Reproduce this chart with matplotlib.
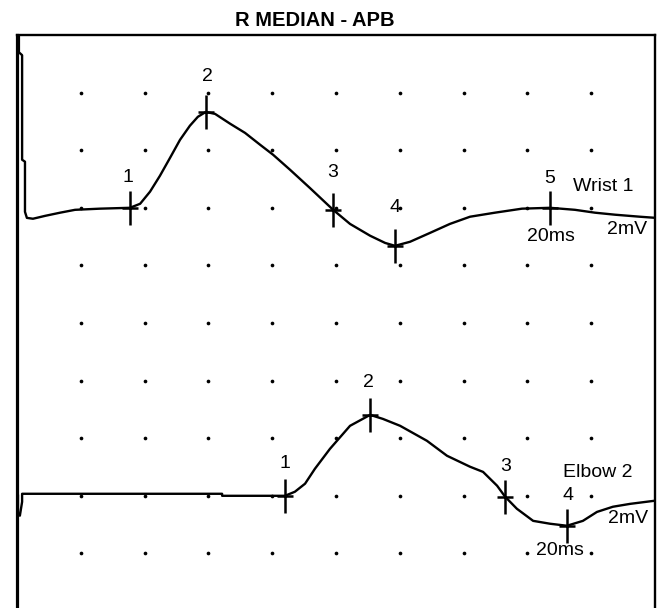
import matplotlib
matplotlib.use("Agg")
import matplotlib.pyplot as plt
from matplotlib.path import Path
import numpy as np

plt.rcParams['font.family'] = ['Liberation Sans', 'DejaVu Sans']

# ---- data (time in ms, amplitude in mV; 2 ms/div, 2 mV/div) ----
title = "R MEDIAN - APB"

wrist_t = [0.06, 0.06, 0.16, 0.16, 0.25, 0.25, 0.31, 0.50, 0.88, 1.35, 1.82, 2.60, 3.54,
           3.86, 4.17, 4.48, 4.80, 5.11, 5.42, 5.67, 5.92, 6.21, 6.68, 7.15, 7.62, 8.03,
           8.56, 9.18, 9.91, 10.44, 11.07, 11.54, 11.85, 12.32, 12.95, 13.57, 14.20,
           14.98, 15.83, 16.71, 17.49, 18.12, 18.75, 19.53, 20.03]
wrist_v = [7.0, 5.40, 5.30, 1.67, 1.60, -0.14, -0.35, -0.38, -0.28, -0.17, -0.07, -0.03, 0.0,
           0.14, 0.56, 1.11, 1.74, 2.36, 2.85, 3.16, 3.33, 3.26, 2.92, 2.60, 2.19, 1.84,
           1.32, 0.69, -0.07, -0.56, -0.97, -1.22, -1.32, -1.18, -0.87, -0.56, -0.31,
           -0.17, -0.03, 0.0, -0.07, -0.17, -0.24, -0.31, -0.35]

elbow_t = [0.03, 0.03, 0.09, 0.16, 0.16, 6.43, 6.43, 8.40, 8.71, 9.03, 9.34, 9.81, 10.44,
           11.07, 11.47, 12.01, 12.85, 13.48, 14.20, 14.61, 15.05, 15.30, 15.67, 16.18,
           16.71, 17.24, 17.74, 18.18, 18.68, 19.22, 20.00]
elbow_v = [0.0, -0.63, -0.69, -0.21, 0.07, 0.07, 0.0, 0.0, 0.14, 0.42, 0.94, 1.63, 2.43,
           2.81, 2.67, 2.43, 1.91, 1.39, 1.01, 0.83, 0.35, -0.03, -0.45, -0.87,
           -0.97, -1.04, -0.87, -0.56, -0.38, -0.28, -0.17]

wrist_offset = 0.0
elbow_offset = -10.0

wrist_marks_t = [3.54, 5.92, 9.91, 11.85, 16.71]
wrist_marks_v = [0.0, 3.33, -0.07, -1.32, 0.0]
wrist_marks_lbl = ["1", "2", "3", "4", "5"]
wrist_lbl_t = [3.48, 5.96, 9.91, 11.85, 16.71]
wrist_lbl_v = [1.04, 4.55, 1.22, 0.0, 1.00]

elbow_marks_t = [8.40, 11.07, 15.30, 17.24]
elbow_marks_v = [0.0, 2.81, -0.03, -1.04]
elbow_marks_lbl = ["1", "2", "3", "4"]
elbow_lbl_t = [8.40, 11.03, 15.33, 17.27]
elbow_lbl_v = [1.11, 3.92, 1.01, 0.0]

grid_t = [2, 4, 6, 8, 10, 12, 14, 16, 18]
grid_v = [4, 2, 0, -2, -4, -6, -8, -10, -12]

# ---- figure ----
W, H = 657, 608
fig = plt.figure(figsize=(W / 100, H / 100), dpi=100)
left, right, top, bottom = 17, 655, 35, 611
ax = fig.add_axes([left / W, 1 - bottom / H, (right - left) / W, (bottom - top) / H])
ax.set_xlim(0, 20)
ax.set_ylim(-14, 6)
ax.set_xticks([])
ax.set_yticks([])
for s in ['top', 'right']:
    ax.spines[s].set_linewidth(1.7)
ax.spines['left'].set_linewidth(2.3)
ax.spines['bottom'].set_visible(False)

gx, gy = np.meshgrid(grid_t, grid_v)
ax.scatter(gx.ravel(), gy.ravel(), s=7, color='black', linewidths=0, zorder=1)

lw = 1.7
ax.plot(wrist_t, np.array(wrist_v) + wrist_offset, color='black', lw=lw, clip_on=True, zorder=3)
ax.plot(elbow_t, np.array(elbow_v) + elbow_offset, color='black', lw=lw, clip_on=True, zorder=3)

cross = Path([(0, -1), (0, 1), (-0.45, 0), (0.45, 0)],
             [Path.MOVETO, Path.LINETO, Path.MOVETO, Path.LINETO])
mk = dict(marker=cross, markersize=24, markeredgewidth=1.8, color='black',
          linestyle='none', zorder=4)
ax.plot(wrist_marks_t, np.array(wrist_marks_v) + wrist_offset, **mk)
ax.plot(elbow_marks_t, np.array(elbow_marks_v) + elbow_offset, **mk)

fs = 14
for t, v, s in zip(wrist_lbl_t, wrist_lbl_v, wrist_marks_lbl):
    ax.text(t, v + wrist_offset, s, ha='center', va='center', fontsize=fs)
for t, v, s in zip(elbow_lbl_t, elbow_lbl_v, elbow_marks_lbl):
    ax.text(t, v + elbow_offset, s, ha='center', va='center', fontsize=fs)

ax.text(17.43, 0.73 + wrist_offset, "Wrist 1", ha='left', va='center', fontsize=fs)
ax.text(16.74, -1.00 + wrist_offset, "20ms", ha='center', va='center', fontsize=fs)
ax.text(19.12, -0.76 + wrist_offset, "2mV", ha='center', va='center', fontsize=fs)
ax.text(17.11, 0.80 + elbow_offset, "Elbow 2", ha='left', va='center', fontsize=fs)
ax.text(19.15, -0.80 + elbow_offset, "2mV", ha='center', va='center', fontsize=fs)
ax.text(17.02, -1.91 + elbow_offset, "20ms", ha='center', va='center', fontsize=fs)

fig.text(315 / W, 1 - 21 / H, title, ha='center', va='center', fontsize=14.5, fontweight='bold')

fig.savefig("out.png", dpi=100)
